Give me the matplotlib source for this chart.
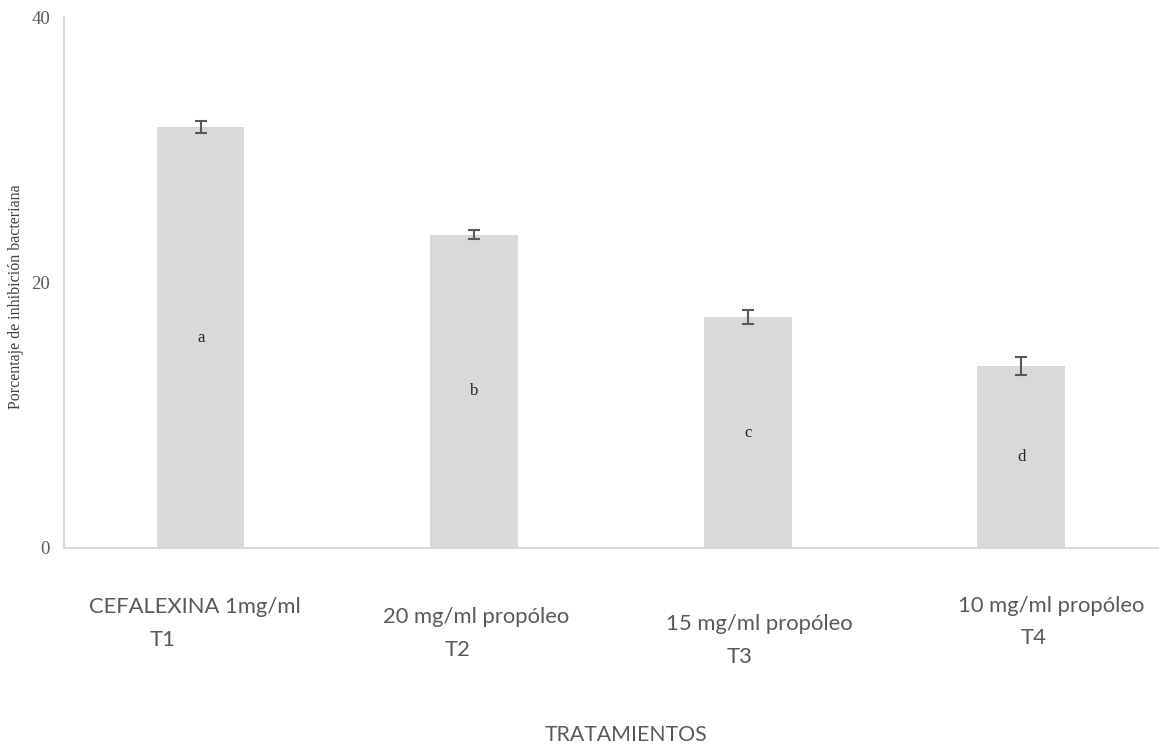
import matplotlib
matplotlib.use("Agg")
import matplotlib.pyplot as plt
from matplotlib.transforms import offset_copy

# Data
treatments = ["CEFALEXINA 1mg/ml", "20 mg/ml propóleo", "15 mg/ml propóleo", "10 mg/ml propóleo"]
codes = ["T1", "T2", "T3", "T4"]
inhibition = [31.7, 23.6, 17.4, 13.7]
errors = [0.45, 0.35, 0.5, 0.7]
groups = ["a", "b", "c", "d"]
y_ticks = [0, 20, 40]

BAR = "#d9d9d9"
TXT = "#595959"
SANS = "Lato"
SERIF = "Liberation Serif"

fig = plt.figure(figsize=(11.65, 7.47), dpi=100)
ax = fig.add_axes([0.0549, 0.2664, 0.9391, 0.7108])

x = list(range(len(treatments)))
ax.bar(x, inhibition, width=0.32, color=BAR, zorder=2)
ax.errorbar(x, inhibition, yerr=errors, fmt="none", ecolor=TXT,
            elinewidth=1.5, capsize=4.3, capthick=1.5, zorder=3)

for xi, v, g in zip(x, inhibition, groups):
    ax.text(xi, v / 2, g, ha="center", va="center", fontsize=12,
            family=SERIF, color="#262626", zorder=4)

ax.set_xlim(-0.5, 3.5)
ax.set_ylim(0, 40)
ax.set_yticks(y_ticks)
ax.set_yticklabels([str(t) for t in y_ticks], family=SERIF,
                   fontsize=13.5, color=TXT)
ax.tick_params(axis="y", length=0, pad=10)
ax.set_xticks([])

for s in ["top", "right"]:
    ax.spines[s].set_visible(False)
for s in ["left", "bottom"]:
    ax.spines[s].set_color(BAR)
    ax.spines[s].set_linewidth(1.5)

fig.text(16 / 1165, 1 - 297 / 747, "Porcentaje de inhibición bacteriana",
         family=SERIF, fontsize=11.5, color="#404040", rotation=90,
         ha="center", va="center")

# Category labels (two lines each, placed below the axis)
name_off = [(-112, -59), (-91, -69), (-82, -76), (-63, -58)]
code_off = [(-51, -92), (-30, -102), (-21, -109), (-1, -90)]
for xi, name, code, no, co in zip(x, treatments, codes, name_off, code_off):
    t1 = offset_copy(ax.transData, fig=fig, x=no[0] * 0.72, y=no[1] * 0.72, units="points")
    ax.text(xi, 0, name, transform=t1, ha="left", va="center", fontsize=15.8,
            family=SANS, color=TXT, clip_on=False)
    t2 = offset_copy(ax.transData, fig=fig, x=co[0] * 0.72, y=co[1] * 0.72, units="points")
    ax.text(xi, 0, code, transform=t2, ha="left", va="center", fontsize=15.8,
            family=SANS, color=TXT, clip_on=False)

fig.text(626 / 1165, 1 - 735 / 747, "TRATAMIENTOS", ha="center", va="center",
         fontsize=15.3, family=SANS, color=TXT)

fig.savefig("out.png", dpi=100)
